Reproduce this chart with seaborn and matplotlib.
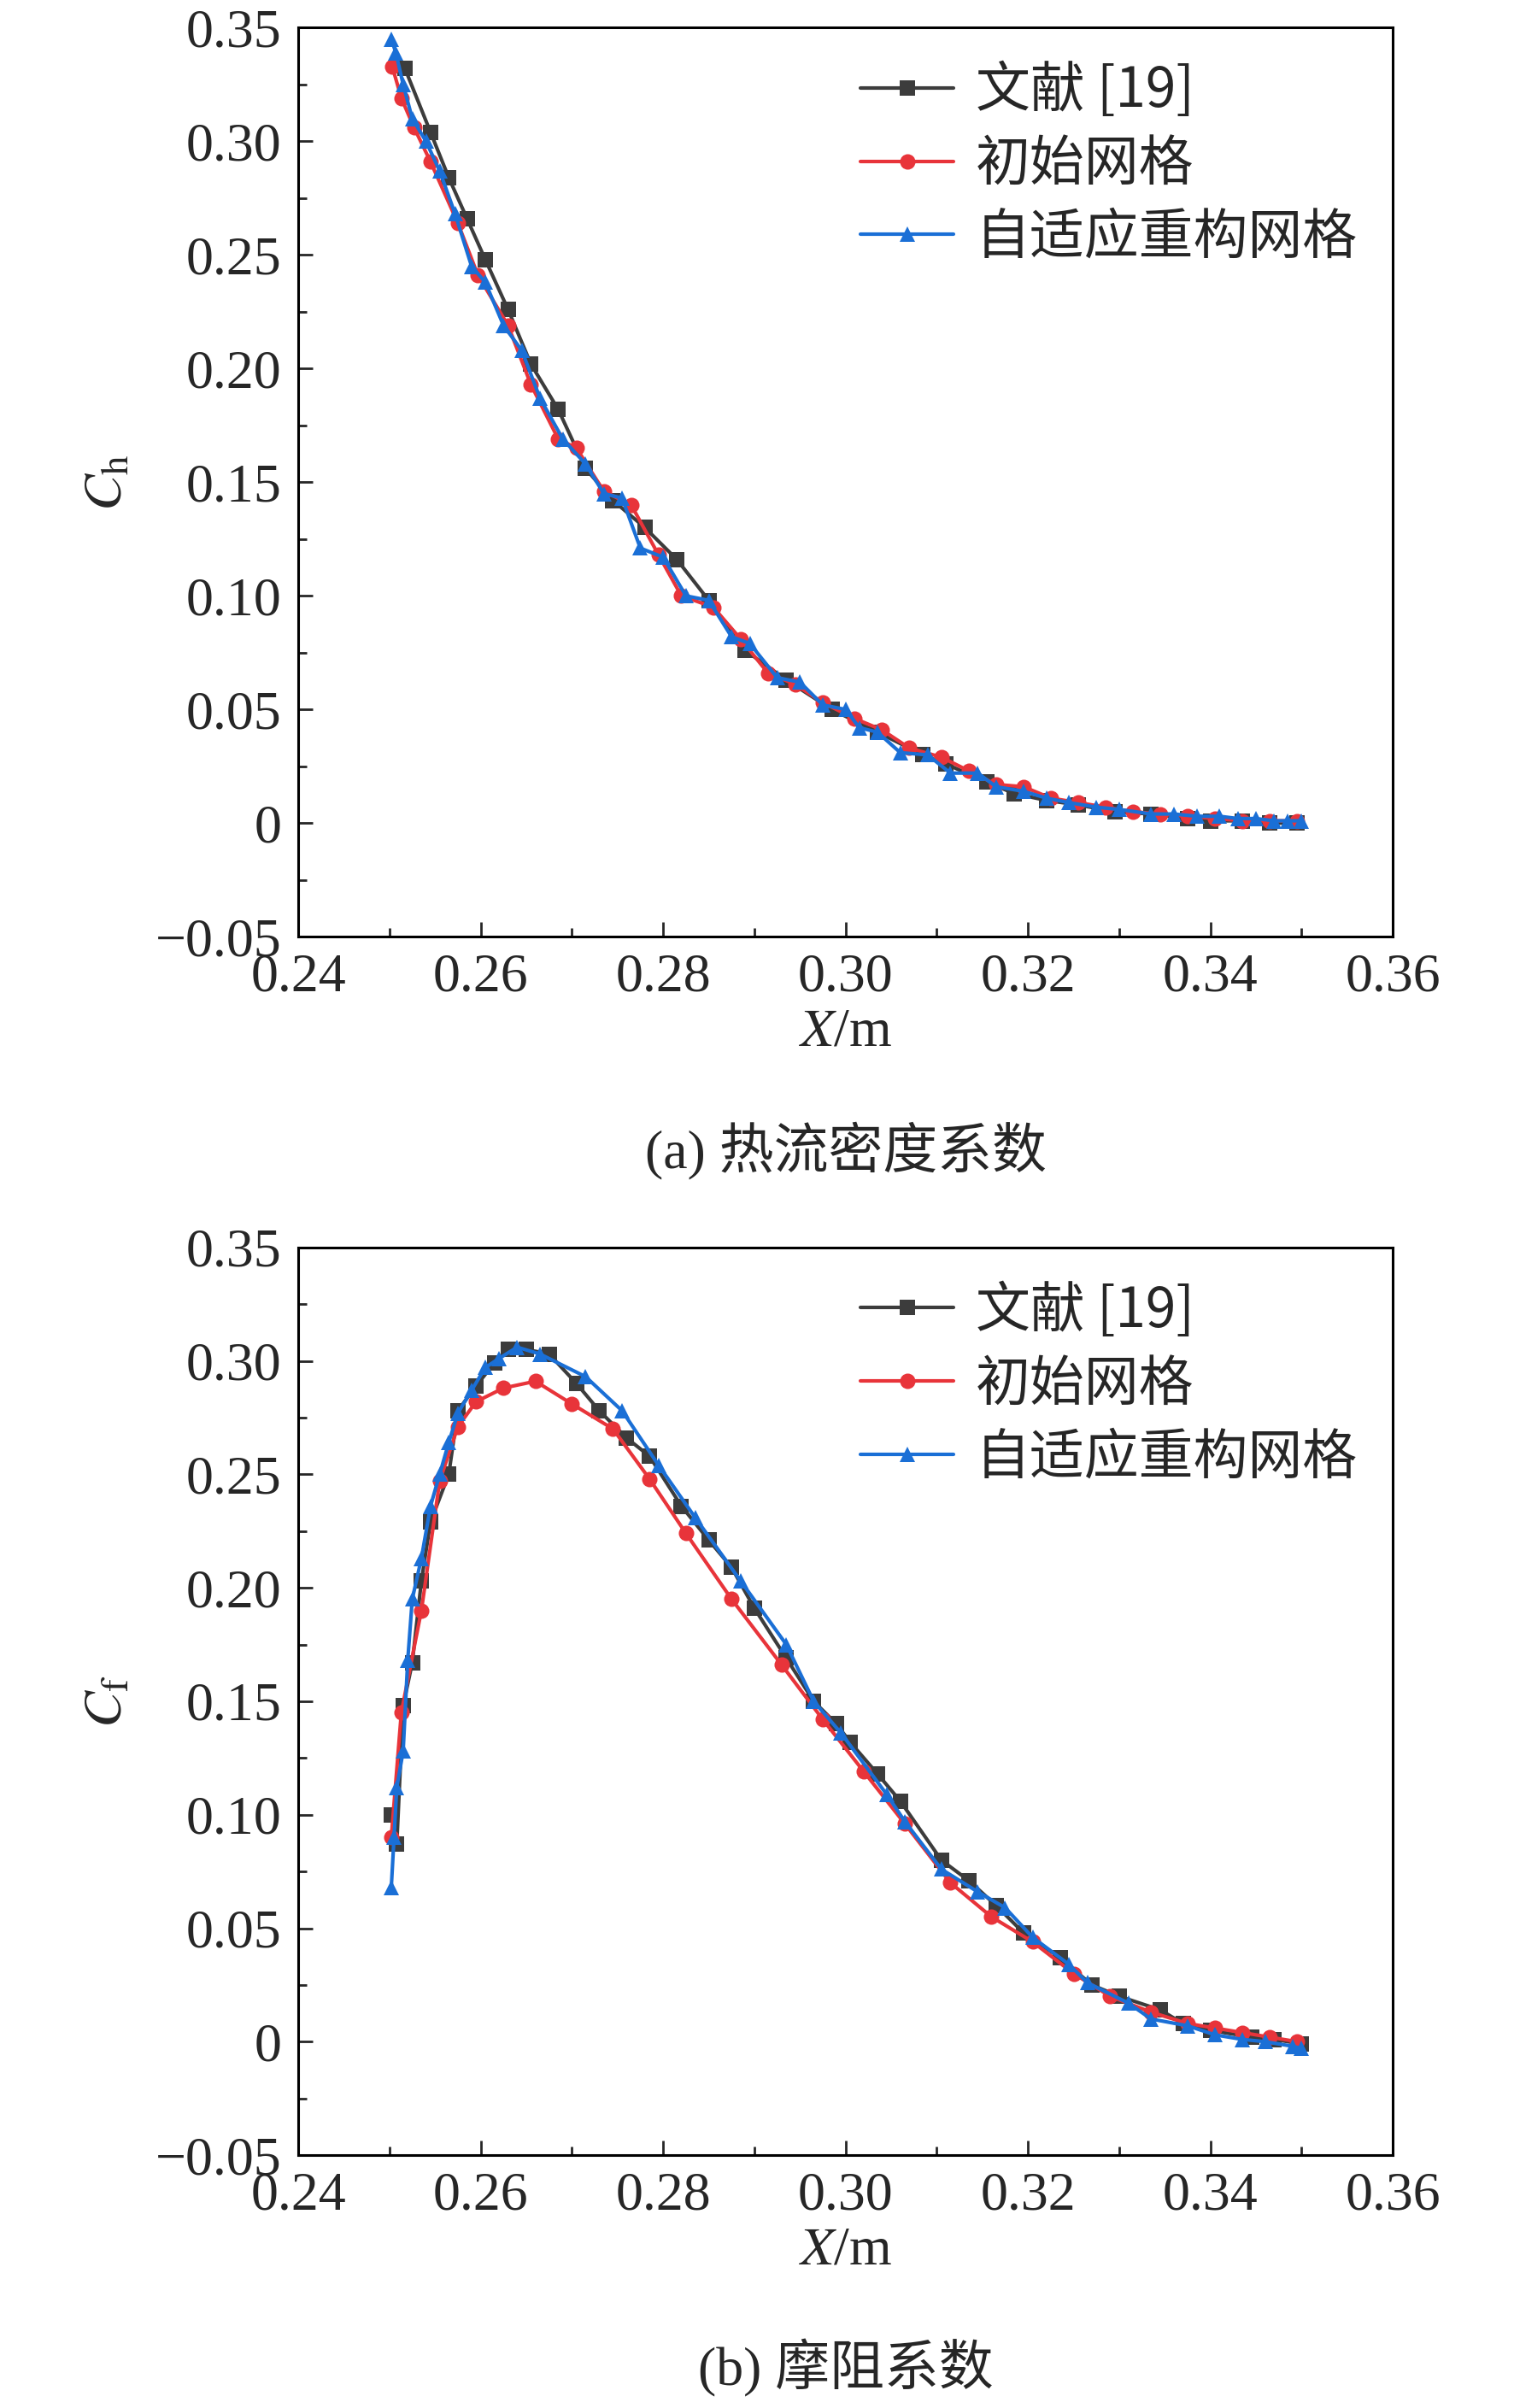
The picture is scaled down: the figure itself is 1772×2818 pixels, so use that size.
import matplotlib
matplotlib.use("Agg")
import matplotlib.pyplot as plt
import seaborn as sns
import pandas as pd

sns.set_theme(style="ticks")
plt.rcParams['font.family'] = ['Liberation Serif', 'Noto Sans CJK SC']
plt.rcParams['mathtext.fontset'] = 'stix'
plt.rcParams['axes.unicode_minus'] = True

labels = ["文献 [19]", "初始网格", "自适应重构网格"]
colors = ["#3c3c3c", "#e8343a", "#1a6fd6"]
markers = ["s", "o", "^"]

# (a) heat flux coefficient
ch_ref_x = [0.2517,0.2545,0.2565,0.2585,0.2605,0.263,0.2655,0.2685,0.2715,0.2745,0.278,0.2815,0.285,0.289,0.2935,0.2985,0.3035,0.3085,0.311,0.3155,0.3185,0.322,0.3255,0.3295,0.3335,0.3375,0.34,0.3435,0.3465,0.3495]
ch_ref_y = [0.332,0.304,0.284,0.266,0.248,0.226,0.202,0.182,0.156,0.142,0.130,0.116,0.098,0.076,0.063,0.050,0.040,0.030,0.026,0.018,0.013,0.010,0.008,0.005,0.004,0.002,0.001,0.001,0.0,0.0]
ch_ini_x = [0.2503,0.2513,0.2527,0.2545,0.2575,0.2597,0.263,0.2655,0.2685,0.2705,0.2735,0.2765,0.2795,0.282,0.2855,0.2885,0.2915,0.2945,0.2975,0.301,0.304,0.307,0.3105,0.3135,0.3165,0.3195,0.3225,0.3255,0.3285,0.3315,0.3345,0.3375,0.3405,0.3435,0.3465,0.3495]
ch_ini_y = [0.333,0.319,0.306,0.291,0.264,0.241,0.219,0.193,0.169,0.165,0.146,0.140,0.118,0.100,0.095,0.081,0.066,0.061,0.053,0.046,0.041,0.033,0.029,0.023,0.017,0.016,0.011,0.009,0.007,0.005,0.004,0.003,0.002,0.001,0.001,0.001]
ch_ada_x = [0.2502,0.2507,0.2515,0.2525,0.254,0.2555,0.2572,0.259,0.2605,0.2625,0.2645,0.2665,0.269,0.2715,0.2735,0.2755,0.2775,0.280,0.2825,0.285,0.2875,0.2895,0.2925,0.295,0.2975,0.3,0.3015,0.3035,0.306,0.309,0.3115,0.3145,0.3165,0.3195,0.322,0.3245,0.3275,0.330,0.3335,0.336,0.3385,0.341,0.343,0.345,0.347,0.3485,0.35]
ch_ada_y = [0.345,0.339,0.325,0.310,0.300,0.287,0.268,0.245,0.238,0.219,0.208,0.187,0.169,0.158,0.145,0.143,0.121,0.117,0.100,0.098,0.082,0.079,0.064,0.062,0.052,0.050,0.042,0.040,0.031,0.030,0.022,0.022,0.016,0.014,0.011,0.009,0.007,0.006,0.004,0.004,0.003,0.003,0.002,0.002,0.001,0.001,0.001]

# (b) friction coefficient
cf_ref_x = [0.2502,0.2508,0.2515,0.2525,0.2535,0.2545,0.2565,0.2575,0.2595,0.2615,0.263,0.265,0.2675,0.2705,0.273,0.276,0.2785,0.282,0.285,0.2875,0.290,0.2935,0.2965,0.299,0.3005,0.3035,0.306,0.3105,0.3135,0.3165,0.3195,0.3235,0.327,0.330,0.3345,0.337,0.340,0.3445,0.347,0.350]
cf_ref_y = [0.100,0.087,0.148,0.167,0.203,0.229,0.250,0.278,0.289,0.299,0.305,0.305,0.303,0.290,0.278,0.266,0.258,0.236,0.221,0.209,0.191,0.169,0.150,0.140,0.132,0.118,0.106,0.080,0.071,0.060,0.048,0.037,0.025,0.020,0.014,0.008,0.005,0.002,0.001,-0.001]
cf_ini_x = [0.2502,0.2513,0.2535,0.2555,0.2575,0.2595,0.2625,0.266,0.270,0.2745,0.2785,0.2825,0.2875,0.293,0.2975,0.302,0.3065,0.3115,0.316,0.3205,0.325,0.329,0.3335,0.3375,0.3405,0.3435,0.3465,0.3495]
cf_ini_y = [0.090,0.145,0.190,0.247,0.271,0.282,0.288,0.291,0.281,0.270,0.248,0.224,0.195,0.166,0.142,0.119,0.096,0.070,0.055,0.044,0.030,0.020,0.013,0.008,0.006,0.004,0.002,0.0]
cf_ada_x = [0.2502,0.2505,0.2508,0.2515,0.252,0.2525,0.2535,0.2545,0.2555,0.2565,0.2575,0.259,0.2605,0.262,0.264,0.2665,0.2715,0.2755,0.2795,0.2835,0.2885,0.2935,0.2965,0.2995,0.3045,0.3065,0.3105,0.3145,0.3175,0.3205,0.3245,0.3265,0.331,0.3335,0.3375,0.3405,0.3435,0.346,0.349,0.350]
cf_ada_y = [0.068,0.090,0.112,0.128,0.168,0.195,0.213,0.236,0.250,0.264,0.277,0.287,0.297,0.301,0.306,0.303,0.293,0.278,0.254,0.231,0.203,0.175,0.150,0.136,0.109,0.097,0.076,0.066,0.059,0.046,0.034,0.026,0.017,0.010,0.007,0.003,0.001,0.0,-0.002,-0.003]

fig = plt.figure(figsize=(17.72, 28.18), dpi=100)
ax1 = fig.add_axes([0.197, 0.611, 0.723, 0.3775])
ax2 = fig.add_axes([0.197, 0.105, 0.723, 0.377])

fs = 46
def draw(ax, series, ylab, cap):
    for (x, y), lab, c, m in zip(series, labels, colors, markers):
        df = pd.DataFrame({"x": x, "y": y})
        sns.lineplot(data=df, x="x", y="y", ax=ax, color=c, marker=m, markersize=13,
                     markeredgewidth=0, linewidth=3, label=lab, sort=False)
    ax.set_xlim(0.24, 0.36)
    ax.set_ylim(-0.05, 0.35)
    ax.set_xticks([0.24,0.26,0.28,0.30,0.32,0.34,0.36])
    ax.set_xticklabels(["0.24","0.26","0.28","0.30","0.32","0.34","0.36"])
    ax.set_yticks([-0.05,0,0.05,0.10,0.15,0.20,0.25,0.30,0.35])
    ax.set_yticklabels(["\u22120.05","0","0.05","0.10","0.15","0.20","0.25","0.30","0.35"])
    ax.set_yticks([-0.025,0.025,0.075,0.125,0.175,0.225,0.275,0.325], minor=True)
    ax.set_xticks([0.25,0.27,0.29,0.31,0.33,0.35], minor=True)
    ax.tick_params(which='major', direction='in', length=12, width=2, labelsize=fs, pad=14)
    ax.tick_params(which='minor', direction='in', length=7, width=2)
    for s in ax.spines.values():
        s.set_linewidth(2.2); s.set_color('black')
    ax.set_xlabel("$X$/m", fontsize=fs, labelpad=4)
    ax.set_ylabel(ylab, fontsize=fs, labelpad=18)
    leg = ax.legend(loc='upper right', fontsize=fs, frameon=False, handlelength=1.7,
                    borderaxespad=0.25, labelspacing=0.3, handletextpad=0.4)
    for t in leg.get_texts():
        t.set_fontfamily(['Noto Sans CJK SC', 'Liberation Serif'])
    ax.text(0.5, -0.235, cap, transform=ax.transAxes, ha='center', va='center',
            fontsize=fs, family=['Liberation Serif', 'Noto Sans CJK SC'])

draw(ax1, [(ch_ref_x, ch_ref_y), (ch_ini_x, ch_ini_y), (ch_ada_x, ch_ada_y)], "$C_\\mathrm{h}$", "(a) 热流密度系数")
draw(ax2, [(cf_ref_x, cf_ref_y), (cf_ini_x, cf_ini_y), (cf_ada_x, cf_ada_y)], "$C_\\mathrm{f}$", "(b) 摩阻系数")

fig.savefig("out.png", dpi=100)
